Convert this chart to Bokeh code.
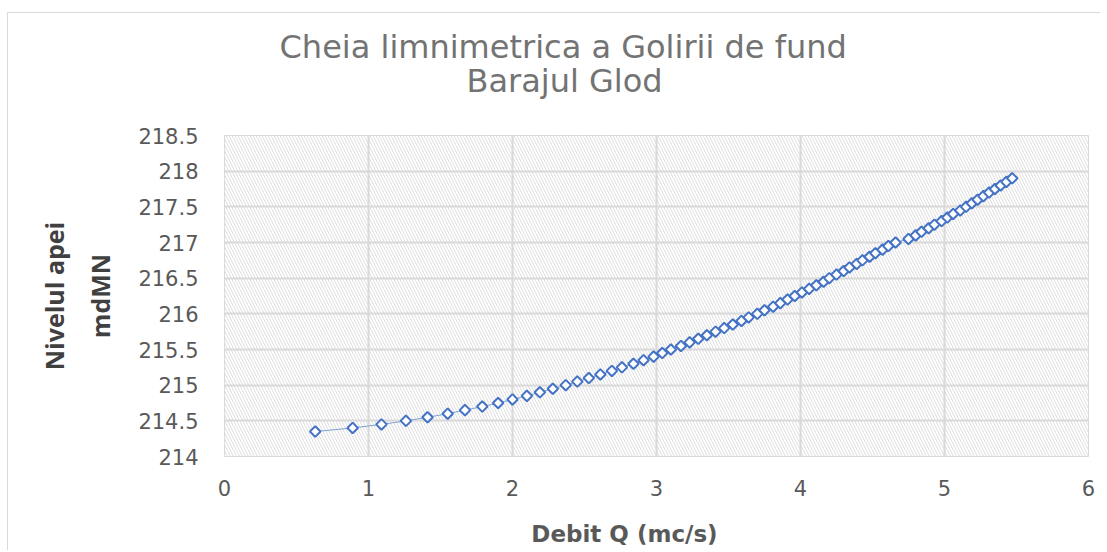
import numpy as np
from bokeh.plotting import figure
from bokeh.models import (Range1d, FixedTicker, NumeralTickFormatter, Title,
                          BoxAnnotation, LinearAxis, ColumnDataSource)
from bokeh.embed import file_html
from bokeh.resources import INLINE

# ---- data ----
debit_q = [0.63, 0.89, 1.09, 1.26, 1.41, 1.55, 1.67, 1.79, 1.90, 2.00,
           2.10, 2.19, 2.28, 2.37, 2.45, 2.53, 2.61, 2.69, 2.76, 2.84,
           2.91, 2.98, 3.04, 3.10, 3.17, 3.23, 3.29, 3.35, 3.41, 3.47,
           3.53, 3.59, 3.64, 3.70, 3.75, 3.81, 3.86, 3.91, 3.96, 4.01,
           4.06, 4.11, 4.16, 4.20, 4.25, 4.30, 4.34, 4.39, 4.43, 4.48,
           4.52, 4.57, 4.61, 4.66, 4.75, 4.80, 4.84, 4.89, 4.93, 4.98,
           5.02, 5.06, 5.11, 5.15, 5.19, 5.23, 5.27, 5.31, 5.35, 5.39,
           5.43, 5.47]
nivel = [214.35, 214.40, 214.45, 214.50, 214.55, 214.60, 214.65, 214.70, 214.75, 214.80,
         214.85, 214.90, 214.95, 215.00, 215.05, 215.10, 215.15, 215.20, 215.25, 215.30,
         215.35, 215.40, 215.45, 215.50, 215.55, 215.60, 215.65, 215.70, 215.75, 215.80,
         215.85, 215.90, 215.95, 216.00, 216.05, 216.10, 216.15, 216.20, 216.25, 216.30,
         216.35, 216.40, 216.45, 216.50, 216.55, 216.60, 216.65, 216.70, 216.75, 216.80,
         216.85, 216.90, 216.95, 217.00, 217.05, 217.10, 217.15, 217.20, 217.25, 217.30,
         217.35, 217.40, 217.45, 217.50, 217.55, 217.60, 217.65, 217.70, 217.75, 217.80,
         217.85, 217.90]
x_ticks = [0, 1, 2, 3, 4, 5, 6]
y_ticks = [214, 214.5, 215, 215.5, 216, 216.5, 217, 217.5, 218, 218.5]
title_lines = ["Cheia limnimetrica a Golirii de fund", "Barajul Glod"]
x_title = "Debit Q (mc/s)"
y_title_lines = ["Nivelul apei", "mdMN"]

GRAY = "#595959"
TITLE_GRAY = "#737373"
DARK = "#404040"
BLUE = "#4472C4"
GRID = "#d9d9d9"

p = figure(width=1100, height=550, output_backend="svg", toolbar_location=None,
           x_range=Range1d(0, 6), y_range=Range1d(214, 218.5),
           min_border_left=224, min_border_right=12, min_border_top=135,
           min_border_bottom=94)
p.background_fill_color = "white"
p.border_fill_color = None
# chart-area border (left and top edges visible in the reference)
p.styles = {
    "background": ("linear-gradient(#d9d9d9,#d9d9d9) 7px 12px / 1px 100% no-repeat, "
                   "linear-gradient(#d9d9d9,#d9d9d9) 7px 12px / 100% 1px no-repeat, white"),
}
p.outline_line_color = GRID
p.outline_line_width = 1

# hatched plot area
p.add_layout(BoxAnnotation(fill_alpha=0, line_color=None, hatch_pattern="\\",
                           hatch_color="#dedede", hatch_scale=6, hatch_weight=1,
                           level="image"))

for ax in (p.xaxis[0], p.yaxis[0]):
    ax.axis_line_color = None
    ax.major_tick_line_color = None
    ax.minor_tick_line_color = None
    ax.major_tick_out = 0
    ax.major_label_text_color = GRAY
    ax.major_label_text_font = "DejaVu Sans"
    ax.major_label_text_font_size = "21px"

p.xaxis.ticker = FixedTicker(ticks=x_ticks)
p.yaxis.ticker = FixedTicker(ticks=y_ticks)
p.yaxis.formatter = NumeralTickFormatter(format="0.[0]")
p.xaxis.formatter = NumeralTickFormatter(format="0")
p.xaxis.major_label_standoff = 23
p.yaxis.major_label_standoff = 26

# x title (trailing no-break spaces shift its centre left, as in the reference)
p.xaxis.axis_label = x_title + "\u00a0" * 8
p.xaxis.axis_label_text_font = "DejaVu Sans"
p.xaxis.axis_label_text_font_style = "bold"
p.xaxis.axis_label_text_font_size = "23px"
p.xaxis.axis_label_text_color = GRAY
p.xaxis.axis_label_standoff = 22

# y title, second line ("mdMN") on the main axis
p.yaxis.axis_label = y_title_lines[1]
p.yaxis.axis_label_text_font = "Open Sans"
p.yaxis.axis_label_text_font_style = "bold"
p.yaxis.axis_label_text_font_size = "25px"
p.yaxis.axis_label_text_color = DARK
p.yaxis.axis_label_standoff = 18

# y title, first line on an extra (label-only) axis further left
y_extra = LinearAxis(ticker=FixedTicker(ticks=[]), axis_label=y_title_lines[0],
                     axis_line_color=None, major_tick_line_color=None,
                     minor_tick_line_color=None, major_tick_out=0, major_label_standoff=0,
                     axis_label_text_font="Open Sans", axis_label_text_font_style="bold",
                     axis_label_text_font_size="25px", axis_label_text_color=DARK,
                     axis_label_standoff=10)
p.add_layout(y_extra, "left")

p.xgrid.ticker = FixedTicker(ticks=x_ticks)
p.ygrid.ticker = FixedTicker(ticks=y_ticks)
for g in (p.xgrid[0], p.ygrid[0]):
    g.grid_line_color = GRID
    g.grid_line_width = 2

src = ColumnDataSource(dict(q=debit_q, h=nivel))
p.line("q", "h", source=src, line_color="#7f9fd6", line_width=1)
p.scatter("q", "h", source=src, marker="square", angle=np.pi / 4, size=7.5,
          fill_color="white", line_color=BLUE, line_width=2)

# chart title: two lines, closest line added first
p.add_layout(Title(text=title_lines[1], align="left", offset=242, standoff=72,
                   text_font="DejaVu Sans", text_font_size="32px", text_font_style="normal",
                   text_color=TITLE_GRAY), "above")
p.add_layout(Title(text=title_lines[0], align="left", offset=55, standoff=-84,
                   text_font="DejaVu Sans", text_font_size="32px", text_font_style="normal",
                   text_color=TITLE_GRAY), "above")

open("out.html", "w").write(file_html(p, INLINE))
